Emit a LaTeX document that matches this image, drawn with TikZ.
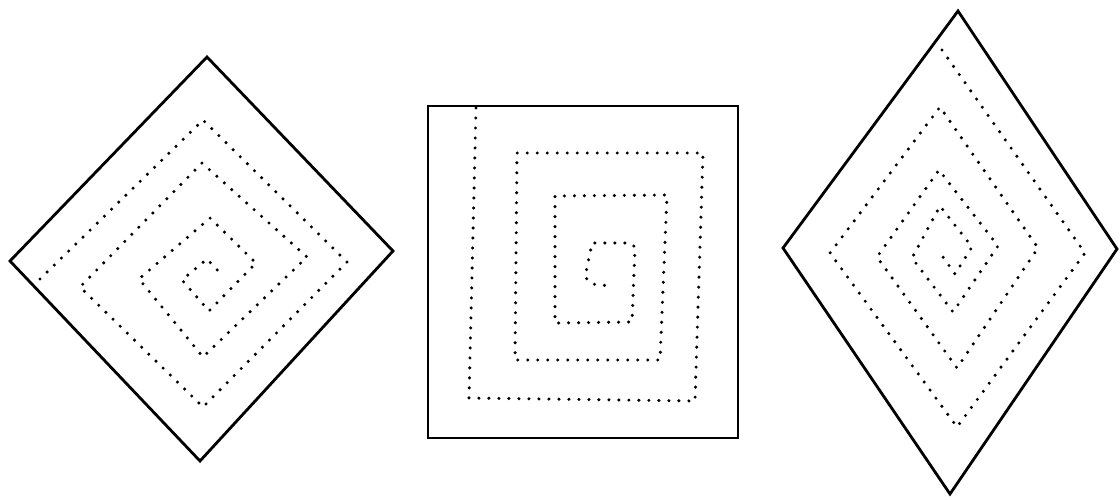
\documentclass[tikz,border=0pt]{standalone}
\begin{document}
\begin{tikzpicture}[x=1pt,y=-1pt,
  frame/.style={draw=black,line width=2.8pt,line join=miter},
  dots/.style={draw=black,line width=3.4pt,line cap=round,dash pattern=on 0pt off 10pt}]
\useasboundingbox (0,0) rectangle (1120,500);
% left diamond
\draw[frame] (207,57) -- (393,251) -- (200,461) -- (10,261) -- cycle;
\draw[dots] (40,279) -- (203,120) -- (347,262) -- (203,407) -- (80,287) -- (202,163)
  -- (307,257) -- (203,357) -- (139,279) -- (210,218) -- (256,263) -- (209,311)
  -- (182,280) -- (207,259) -- (221,274);
% middle square
\draw[frame] (428,106) rectangle (738,438);
\draw[dots] (476,108) -- (469,398) -- (695,401) -- (703,153) -- (517,153) -- (515,360)
  -- (660,360) -- (667,195) -- (555,196) -- (555,323) -- (632,322) -- (635,247)
  -- (630,243) -- (592,243) -- (585,277) -- (592,284) -- (610,286);
% right diamond
\draw[frame] (958,11) -- (1117,249) -- (950,494) -- (783,248) -- cycle;
\draw[dots] (942,50) -- (1085,253) -- (957,427) -- (830,253) -- (940,107) -- (1038,248)
  -- (957,368) -- (877,257) -- (939,170) -- (998,246) -- (953,312) -- (912,258)
  -- (940,206) -- (972,247) -- (955,274) -- (943,257);
\end{tikzpicture}
\end{document}
